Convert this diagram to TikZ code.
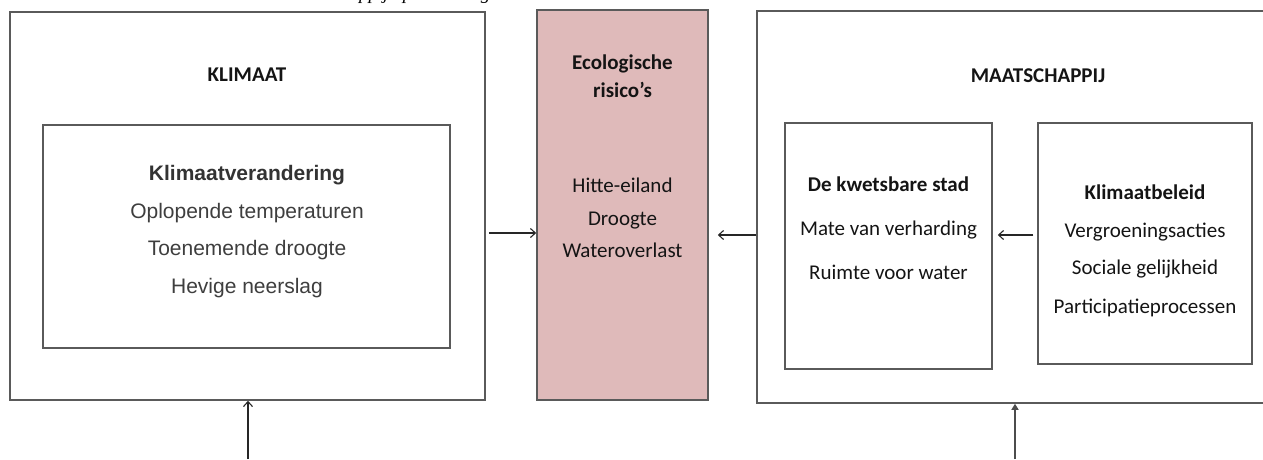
\documentclass[tikz,border=0pt]{standalone}
\usepackage{fontspec}
\setmainfont{Carlito}
\newfontfamily\arialfont{Liberation Sans}
\newfontfamily\capfont{Liberation Serif}
\usetikzlibrary{arrows.meta}
\definecolor{boxline}{HTML}{5A5A5A}
\definecolor{riskfill}{HTML}{DFBABA}
\definecolor{greytext}{HTML}{3E3E3E}
\definecolor{darktext}{HTML}{141414}
\begin{document}
\begin{tikzpicture}[x=1pt,y=-1pt,
  frame/.style 2 args={draw=boxline, line width=1.5pt, inner sep=0pt,
    minimum width=#1, minimum height=#2},
  cal/.style={anchor=base, text=darktext, font=\fontsize{21}{25}\selectfont},
  calb/.style={cal, font=\bfseries\fontsize{21}{25}\selectfont},
  ari/.style={anchor=base, text=greytext, font=\arialfont\fontsize{21}{25}\selectfont},
  arib/.style={ari, text=black!80, font=\arialfont\bfseries\fontsize{21}{25}\selectfont},
  arr/.style={draw=black!85, line width=1.1pt, -{Straight Barb[length=5pt,width=9pt]}},
  arrf/.style={draw=black!70, line width=1.3pt, -{Triangle[length=6pt,width=7pt]}}]
\useasboundingbox (0,0) rectangle (1263,459);
\clip (0,0) rectangle (1263,459);

% caption line running off the top edge
\node[anchor=base west, inner sep=0pt, font=\capfont\itshape\fontsize{19}{21}\selectfont]
  (cap) at (286,-0.5) {maatschappij op de ecologische risico’s};

% boxes
\node[frame={475pt}{388pt}] (klimaat) at (247.5,206) {};
\node[frame={407pt}{223pt}] (verandering) at (246.5,236.5) {};
\node[frame={171pt}{390pt}, fill=riskfill] (risico) at (622.5,205) {};
\node[frame={518pt}{392pt}] (maatschappij) at (1016,207) {};
\node[frame={207pt}{246pt}] (stad) at (888.5,246) {};
\node[frame={214pt}{241pt}] (beleid) at (1145,243.5) {};

% texts
\node[calb] (tK) at (247,81) {KLIMAAT};
\node[arib] (tKv) at (247,180) {Klimaatverandering};
\node[ari] (tK1) at (247,218) {Oplopende temperaturen};
\node[ari] (tK2) at (247,255) {Toenemende droogte};
\node[ari] (tK3) at (247,293) {Hevige neerslag};

\node[calb] (tE) at (622.5,69) {Ecologische};
\node[calb] (tE0) at (622.5,97) {risico’s};
\node[cal] (tE1) at (622.5,192) {Hitte-eiland};
\node[cal] (tE2) at (622.5,225) {Droogte};
\node[cal] (tE3) at (622.5,257) {Wateroverlast};

\node[calb] (tM) at (1038,82) {MAATSCHAPPIJ};
\node[calb] (tS) at (888.5,191) {De kwetsbare stad};
\node[cal] (tS1) at (888.5,235) {Mate van verharding};
\node[cal] (tS2) at (888.5,279) {Ruimte voor water};
\node[calb] (tB) at (1145,199) {Klimaatbeleid};
\node[cal] (tB1) at (1145,237) {Vergroeningsacties};
\node[cal] (tB2) at (1145,274) {Sociale gelijkheid};
\node[cal] (tB3) at (1145,313) {Participatieprocessen};

% connectors
\coordinate (ya) at (0,233);
\coordinate (yb) at (0,235);
\draw[arr] ([xshift=3pt]klimaat.east |- ya) -- (risico.west |- ya);
\draw[arr] (maatschappij.west |- yb) -- ([xshift=9pt]risico.east |- yb);
\draw[arr] ([xshift=-4pt]beleid.west |- yb) -- ([xshift=5pt]stad.east |- yb);

\coordinate (inL) at (248,459);
\coordinate (inR) at (1015,459);
\draw[arr] (inL) -- (inL |- klimaat.south);
\draw[arrf] (inR) -- (inR |- maatschappij.south);
\end{tikzpicture}
\end{document}
